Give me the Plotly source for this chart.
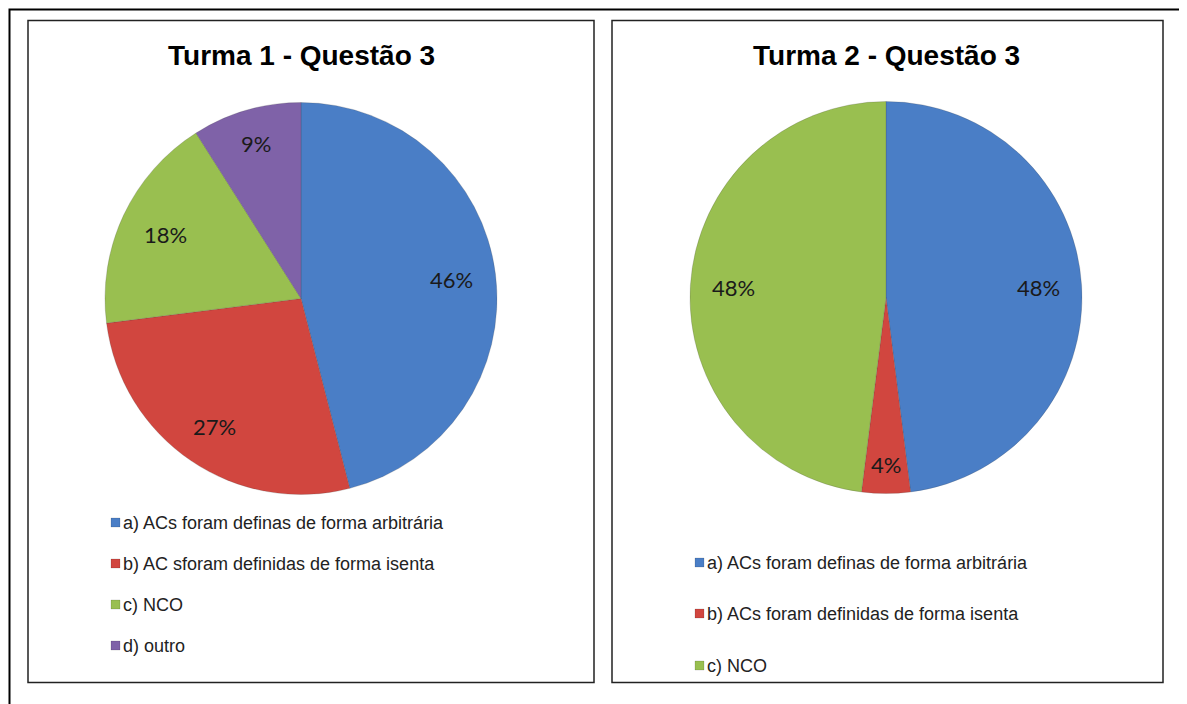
import math
import plotly.graph_objects as go

W, H = 1187, 704

# ---- data ----
title1 = "Turma 1 - Questão 3"
labels1 = ["a) ACs foram definas de forma arbitrária",
           "b) AC sforam definidas de forma isenta",
           "c) NCO",
           "d) outro"]
values1 = [46, 27, 18, 9]

title2 = "Turma 2 - Questão 3"
labels2 = ["a) ACs foram definas de forma arbitrária",
           "b) ACs foram definidas de forma isenta",
           "c) NCO"]
values2 = [48, 4, 48]

colors = ["#4A7EC6", "#D1463F", "#99BF50", "#7F62A8"]

LABEL_FS = 22

def px(x):
    return x / W

def py(y):
    return 1 - y / H

fig = go.Figure()
shapes = []
annotations = []

def add_pie(labels, values, cx, cy, r, title):
    fig.add_trace(go.Pie(
        labels=labels, values=values, sort=False, direction="clockwise",
        rotation=0,
        marker=dict(colors=colors[:len(values)],
                    line=dict(color="rgba(60,60,60,0.2)", width=1)),
        textinfo="none",
        hoverinfo="label+percent",
        domain=dict(x=[px(cx - r), px(cx + r)], y=[py(cy + r), py(cy - r)]),
        showlegend=False,
    ))
    # data labels: inside-end placement along each slice's mid-angle,
    # pulled in so the label box stays inside the slice (Excel-like)
    total = float(sum(values))
    cum = 0.0
    for v in values:
        mid = (cum + v / 2.0) / total * 2 * math.pi
        cum += v
        txt = "%d%%" % round(v / total * 100)
        bw = 0.6 * LABEL_FS * len(txt) + 14
        bh = LABEL_FS + 4
        half = abs(math.sin(mid)) * bw / 2 + abs(math.cos(mid)) * bh / 2
        rr = r - 16 - half
        lx = cx + rr * math.sin(mid)
        ly = cy - rr * math.cos(mid)
        annotations.append(dict(text=txt,
                                x=px(lx), y=py(ly), xref="paper", yref="paper",
                                showarrow=False, xanchor="center", yanchor="middle",
                                font=dict(family="Lato", size=LABEL_FS, color="#1a1a1a")))
    annotations.append(dict(text="<b>%s</b>" % title, x=px(cx), y=py(48),
                            xref="paper", yref="paper", showarrow=False,
                            xanchor="center", yanchor="middle",
                            font=dict(family="Liberation Sans", size=28, color="black")))

add_pie(labels1, values1, 293, 290.5, 196, title1)
add_pie(labels2, values2, 878, 289.5, 196, title2)

# outer border and panel frames
shapes.append(dict(type="rect", xref="paper", yref="paper",
                   x0=px(1.5), x1=px(1185.5), y0=py(702.5), y1=py(1.5),
                   line=dict(color="black", width=2)))
for x0, x1 in [(20, 586), (604, 1155)]:
    shapes.append(dict(type="rect", xref="paper", yref="paper",
                       x0=px(x0), x1=px(x1), y0=py(674.5), y1=py(12.5),
                       line=dict(color="#222", width=1.5)))

# legends
def add_legend(labels, sx, rows):
    for i, (lab, ry) in enumerate(zip(labels, rows)):
        shapes.append(dict(type="rect", xref="paper", yref="paper",
                           x0=px(sx), x1=px(sx + 9), y0=py(ry + 4.5), y1=py(ry - 4.5),
                           fillcolor=colors[i], line=dict(color="rgba(0,0,0,0.25)", width=0.5)))
        annotations.append(dict(text=lab, x=px(sx + 10), y=py(ry), xref="paper", yref="paper",
                                showarrow=False, xanchor="left", yanchor="middle",
                                font=dict(family="Liberation Sans", size=18, color="#222")))

add_legend(labels1, 103, [514.5, 555.5, 596.5, 637.5])
add_legend(labels2, 687, [554.5, 605.5, 657.5])

fig.update_layout(width=W, height=H, margin=dict(l=0, r=0, t=0, b=0),
                  paper_bgcolor="white", plot_bgcolor="white",
                  shapes=shapes, annotations=annotations)

fig.write_html("out.html")
